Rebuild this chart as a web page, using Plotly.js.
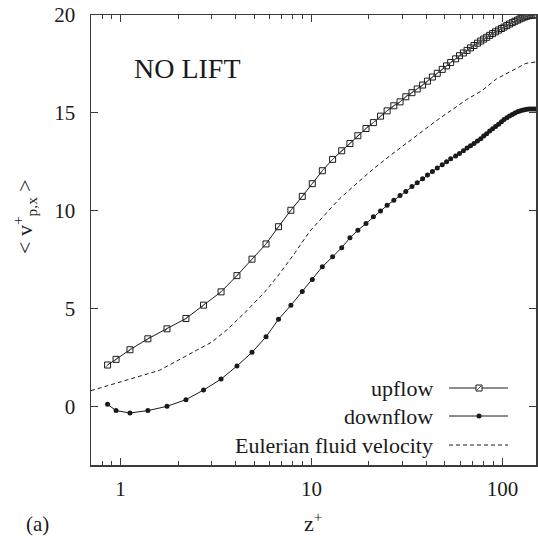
<!DOCTYPE html>
<html>
<head>
<meta charset="utf-8">
<script src="https://cdn.plot.ly/plotly-3.0.1.min.js"></script>
<style>
  html, body { margin: 0; padding: 0; background: #ffffff; }
  #chart { width: 538px; height: 536px; }
</style>
</head>
<body>
<div id="chart"></div>
<script>
// ---- data ----
const zPlus = [0.855, 0.947, 1.12, 1.39, 1.75, 2.20, 2.72, 3.36, 4.07, 4.88,
  5.78, 6.72, 7.80, 8.95, 10.1, 11.4, 12.9, 14.4, 15.9, 17.5,
  19.3, 21.1, 23.0, 24.9, 27.0, 29.1, 31.2, 33.6, 35.8, 38.2,
  40.5, 43.0, 45.6, 48.4, 51.0, 53.6, 56.9, 59.6, 62.5, 65.3,
  68.1, 71.0, 74.0, 77.0, 79.8, 82.7, 85.8, 88.9, 92.1, 95.5,
  98.9, 102, 105.5, 109, 112.7, 116.3, 120, 123.5, 127, 130.7,
  134.3, 138, 141.5, 145, 148.7];

const upflow = [2.11, 2.40, 2.89, 3.45, 3.96, 4.49, 5.17, 5.85, 6.68, 7.52,
  8.30, 9.18, 10.02, 10.73, 11.38, 12.04, 12.62, 13.06, 13.43, 13.83,
  14.20, 14.50, 14.83, 15.10, 15.36, 15.56, 15.82, 16.03, 16.22, 16.42,
  16.62, 16.83, 17.02, 17.22, 17.40, 17.57, 17.76, 17.92, 18.06, 18.19,
  18.32, 18.44, 18.56, 18.67, 18.77, 18.86, 18.96, 19.05, 19.14, 19.23,
  19.31, 19.38, 19.46, 19.54, 19.61, 19.68, 19.74, 19.80, 19.85, 19.90,
  19.94, 19.97, 19.99, 20.00, 20.00];

const downflow = [0.10, -0.22, -0.34, -0.22, 0.00, 0.34, 0.83, 1.39, 2.06, 2.76,
  3.55, 4.45, 5.16, 5.87, 6.48, 7.13, 7.64, 8.11, 8.61, 9.00,
  9.34, 9.69, 9.98, 10.27, 10.53, 10.77, 10.98, 11.24, 11.43, 11.63,
  11.82, 12.00, 12.18, 12.35, 12.50, 12.65, 12.79, 12.92, 13.06, 13.20,
  13.32, 13.43, 13.56, 13.67, 13.81, 13.93, 14.07, 14.18, 14.30, 14.42,
  14.54, 14.66, 14.75, 14.84, 14.92, 14.99, 15.05, 15.09, 15.13, 15.16,
  15.18, 15.19, 15.20, 15.20, 15.19];

const zEuler = [0.7, 1.6, 3.0, 3.6, 4.6, 5.7, 6.8, 8.2, 9.8, 11.3,
  14.0, 17.9, 21.5, 25.7, 32.7, 45, 65, 77.8, 93, 118.5, 133, 150];
const uEuler = [0.80, 1.84, 3.28, 3.90, 4.90, 5.85, 6.77, 7.85, 8.95, 9.60,
  10.60, 11.53, 12.20, 12.80, 13.57, 14.59, 15.68, 16.12, 16.73, 17.28, 17.53, 17.60];

const xTickVals = [1, 10, 100];
const xTickText = ['1', '10', '100'];
const xMinorVals = [0.8, 0.9, 2, 3, 4, 5, 6, 7, 8, 9, 20, 30, 40, 50, 60, 70, 80, 90];
const yTickVals = [0, 5, 10, 15, 20];
const seriesNames = ['upflow', 'downflow', 'Eulerian fluid velocity'];

// ---- styles ----
const FONT = '"Liberation Serif", "Times New Roman", serif';
const INK = '#1a1a1a';
const FRAME = '#3a3a3a';

const traces = [
  { x: zEuler, y: uEuler, mode: 'lines', name: seriesNames[2],
    line: { color: INK, width: 1, dash: '4px,3px' }, hoverinfo: 'skip' },
  { x: zPlus, y: upflow, mode: 'lines+markers', name: seriesNames[0],
    line: { color: INK, width: 1 },
    marker: { symbol: 'square-open', size: 6, color: INK, line: { width: 1, color: INK } } },
  { x: zPlus, y: upflow, mode: 'markers', showlegend: false,
    marker: { symbol: 'line-ne-open', size: 5, color: '#555', line: { width: 1, color: '#555' } } },
  { x: zPlus, y: downflow, mode: 'lines+markers', name: seriesNames[1],
    line: { color: INK, width: 1 },
    marker: { symbol: 'circle', size: 5, color: INK, line: { width: 0 } } }
];

// plot area in pixels: x 91..536, y 15..465
const W = 445, H = 450;
const px = v => (v - 91) / W;
const py = v => (465 - v) / H;

const legendRows = [388, 416, 445];
const textRight = px(435);
const lineX0 = px(449), lineX1 = px(508), mx = px(479);
const shapes = [];
legendRows.forEach((r, i) => {
  const yy = py(r);
  shapes.push({ type: 'line', xref: 'paper', yref: 'paper', x0: lineX0, x1: lineX1, y0: yy, y1: yy,
    line: { color: INK, width: 1, dash: i === 2 ? '4px,3px' : 'solid' } });
});
// legend marker samples
const sq = 3;
shapes.push({ type: 'rect', xref: 'paper', yref: 'paper',
  x0: mx - sq / W, x1: mx + sq / W, y0: py(legendRows[0]) - sq / H, y1: py(legendRows[0]) + sq / H,
  line: { color: INK, width: 1 }, fillcolor: 'white' });
shapes.push({ type: 'line', xref: 'paper', yref: 'paper',
  x0: mx - 2 / W, x1: mx + 2 / W, y0: py(legendRows[0]) - 2 / H, y1: py(legendRows[0]) + 2 / H,
  line: { color: '#555', width: 1 } });
shapes.push({ type: 'circle', xref: 'paper', yref: 'paper',
  x0: mx - 2.5 / W, x1: mx + 2.5 / W, y0: py(legendRows[1]) - 2.5 / H, y1: py(legendRows[1]) + 2.5 / H,
  line: { color: INK, width: 0 }, fillcolor: INK });

const annotations = legendRows.map((r, i) => ({
  xref: 'paper', yref: 'paper', x: textRight, y: py(r), xanchor: 'right', yanchor: 'middle',
  text: seriesNames[i], showarrow: false, font: { family: FONT, size: 22, color: INK }
}));
annotations.push({ xref: 'paper', yref: 'paper', x: px(187), y: py(68), xanchor: 'center', yanchor: 'middle',
  text: 'NO LIFT', showarrow: false, font: { family: FONT, size: 28, color: INK } });
annotations.push({ xref: 'paper', yref: 'paper', x: px(313), y: py(522), xanchor: 'center', yanchor: 'middle',
  text: 'z<sup>+</sup>', showarrow: false, font: { family: FONT, size: 22, color: INK } });
annotations.push({ xref: 'paper', yref: 'paper', x: px(37), y: py(524), xanchor: 'center', yanchor: 'middle',
  text: '(a)', showarrow: false, font: { family: FONT, size: 21, color: INK } });
annotations.push({ xref: 'paper', yref: 'paper', x: px(24), y: py(217), xanchor: 'center', yanchor: 'middle',
  textangle: -90, text: '&lt; v<sup>+</sup><sub>p,x</sub> &gt;', showarrow: false,
  font: { family: FONT, size: 22, color: INK } });

const layout = {
  width: 538, height: 536,
  margin: { l: 91, r: 2, t: 15, b: 71, pad: 0 },
  paper_bgcolor: '#ffffff', plot_bgcolor: '#ffffff',
  showlegend: false,
  font: { family: FONT, size: 21, color: INK },
  xaxis: {
    type: 'log', range: [Math.log10(0.7), Math.log10(150)],
    tickmode: 'array', tickvals: xTickVals, ticktext: xTickText,
    ticks: 'inside', ticklen: 7, tickwidth: 1, tickcolor: FRAME,
    minor: { tickmode: 'array', tickvals: xMinorVals, ticks: 'inside', ticklen: 4, tickwidth: 1, tickcolor: FRAME, showgrid: false },
    showline: true, linecolor: FRAME, linewidth: 1.5, mirror: 'ticks',
    showgrid: false, zeroline: false,
    ticklabelstandoff: 4,
    tickfont: { family: FONT, size: 21, color: INK }
  },
  yaxis: {
    range: [-3, 20],
    tickmode: 'array', tickvals: yTickVals,
    ticks: 'inside', ticklen: 7, tickwidth: 1, tickcolor: FRAME,
    showline: true, linecolor: FRAME, linewidth: 1.5, mirror: 'ticks',
    showgrid: false, zeroline: false,
    ticklabelstandoff: 10,
    tickfont: { family: FONT, size: 21, color: INK }
  },
  shapes: shapes,
  annotations: annotations
};

Plotly.newPlot('chart', traces, layout, { staticPlot: true, displayModeBar: false });
</script>
</body>
</html>
